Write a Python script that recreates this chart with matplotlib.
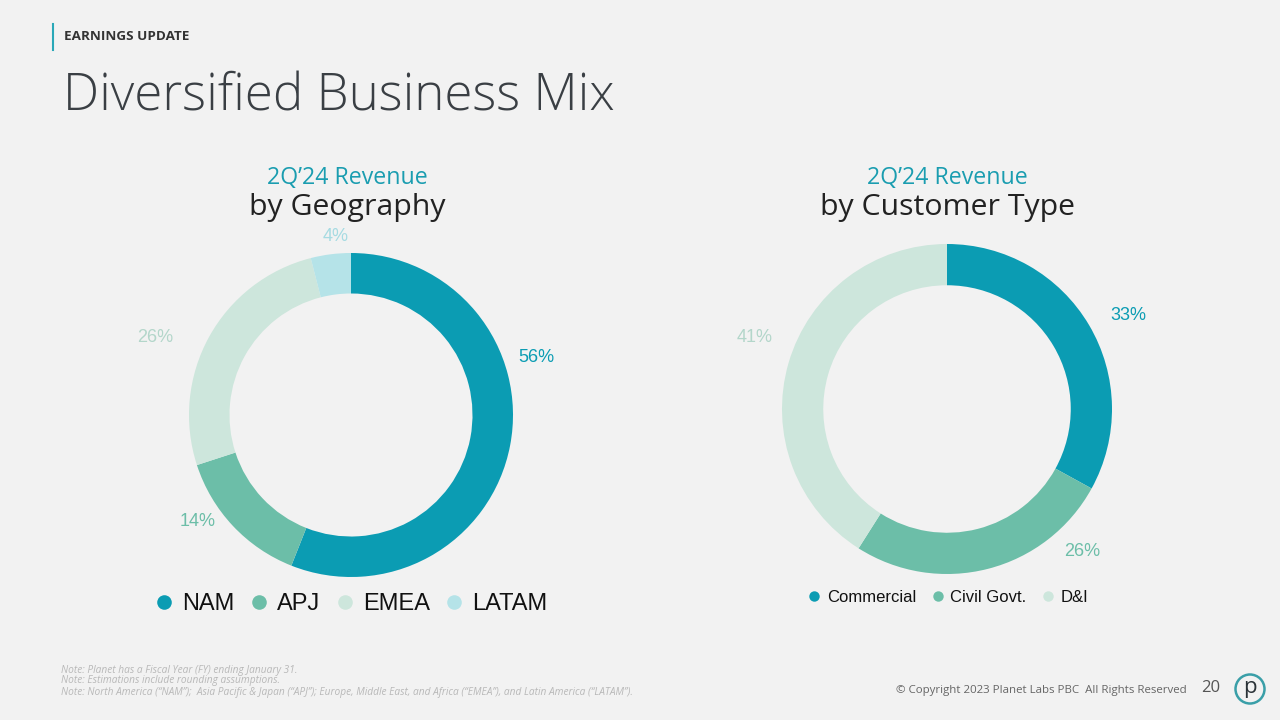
import matplotlib.pyplot as plt
from matplotlib.patches import Ellipse
from matplotlib.lines import Line2D

# data
geo_labels = ["NAM", "APJ", "EMEA", "LATAM"]
geo_values = [56, 14, 26, 4]
cust_labels = ["Commercial", "Civil Govt.", "D&I"]
cust_values = [33, 26, 41]

TEAL = "#0b9cb3"
GREEN = "#6cbea8"
PALE = "#cde6dc"
ICE = "#b5e3e8"
BG = "#f2f2f2"
geo_colors = [TEAL, GREEN, PALE, ICE]
cust_colors = [TEAL, GREEN, PALE]
geo_label_colors = [TEAL, GREEN, "#b3d6ca", "#a6dbe2"]
cust_label_colors = [TEAL, GREEN, "#b3d6ca"]

W, H = 1280, 720
FONT = "Open Sans"
fig = plt.figure(figsize=(12.8, 7.2), dpi=100, facecolor=BG)


def px(x, y):
    return x / W, 1 - y / H


def donut(cx, cy, r, values, colors):
    ax = fig.add_axes([(cx - r) / W, (H - cy - r) / H, 2 * r / W, 2 * r / H])
    ax.pie(values, colors=colors, startangle=90, counterclock=False,
           radius=1, wedgeprops=dict(width=0.25, linewidth=0))
    ax.set_xlim(-1, 1)
    ax.set_ylim(-1, 1)
    ax.axis("off")
    return ax


donut(351, 415, 162, geo_values, geo_colors)
donut(947, 409, 165, cust_values, cust_colors)

# percent labels
geo_pos = [(536, 358), (198, 521), (155, 337), (336, 237)]
for v, (x, y), c in zip(geo_values, geo_pos, geo_label_colors):
    fig.text(*px(x, y), f"{v}%", color=c, fontsize=13, ha="center", va="center",
             family="Liberation Sans")
cust_pos = [(1128, 316), (1082, 552), (755, 337)]
for v, (x, y), c in zip(cust_values, cust_pos, cust_label_colors):
    fig.text(*px(x, y), f"{v}%", color=c, fontsize=13, ha="center", va="center",
             family="Liberation Sans")

# chart headings
for cx, sub in [(347, "by Geography"), (947, "by Customer Type")]:
    fig.text(*px(cx, 178), "2Q\u201924 Revenue", color="#1a9db0", fontsize=16.7,
             ha="center", va="center", family=FONT)
    fig.text(*px(cx, 208), sub, color="#222222", fontsize=21.8,
             ha="center", va="center", family=FONT)


# legends
def legend(labels, colors, x, y, size, msize, spacing):
    handles = [Line2D([], [], marker="o", linestyle="", markersize=msize,
                      markerfacecolor=c, markeredgewidth=0) for c in colors]
    fig.legend(handles, labels, loc="center", bbox_to_anchor=px(x, y), ncol=len(labels),
               frameon=False, handletextpad=0.25, columnspacing=spacing, handlelength=1.0,
               prop=dict(family="Liberation Sans", size=size), labelcolor="#111111")


legend(geo_labels, geo_colors, 350, 604, 17, 10.5, 0.55)
legend(cust_labels, cust_colors, 947, 597, 12, 7.5, 0.8)

# slide header
fig.add_artist(Line2D([53 / W, 53 / W], [1 - 24 / H, 1 - 50 / H], color="#2aa8b8", lw=1.5))
fig.text(*px(64, 37), "EARNINGS UPDATE", fontsize=9.7, fontweight="bold", color="#333333",
         va="center", family=FONT)
fig.text(*px(63, 97), "Diversified Business Mix", fontsize=36.8, color="#3a3f44",
         va="center", family=FONT, fontweight="light")

# footnotes
notes = [
    "Note: Planet has a Fiscal Year (FY) ending January 31.",
    "Note: Estimations include rounding assumptions.",
    "Note: North America (\u201cNAM\u201d);  Asia Pacific & Japan (\u201cAPJ\u201d); Europe, Middle East, and Africa (\u201cEMEA\u201d), and Latin America (\u201cLATAM\u201d).",
]
for i, n in enumerate(notes):
    fig.text(*px(61, 670 + i * 11), n, fontsize=7.3, style="italic", color="#b8b8b8",
             va="center", family=FONT)

fig.text(*px(1187, 690), "\u00a9 Copyright 2023 Planet Labs PBC  All Rights Reserved",
         fontsize=8.25, color="#666666", ha="right", va="center", family=FONT)
fig.text(*px(1211, 688), "20", fontsize=12, color="#555555", ha="center", va="center",
         family=FONT)
fig.add_artist(Ellipse(px(1250, 689), 29 / W, 29 / H, transform=fig.transFigure,
                       fill=False, edgecolor="#3a9fa8", lw=1.8))
fig.text(*px(1250, 687), "p", fontsize=16, color="#2b3338", ha="center", va="center",
         family=FONT)

fig.savefig("out.png", dpi=100, facecolor=BG)
